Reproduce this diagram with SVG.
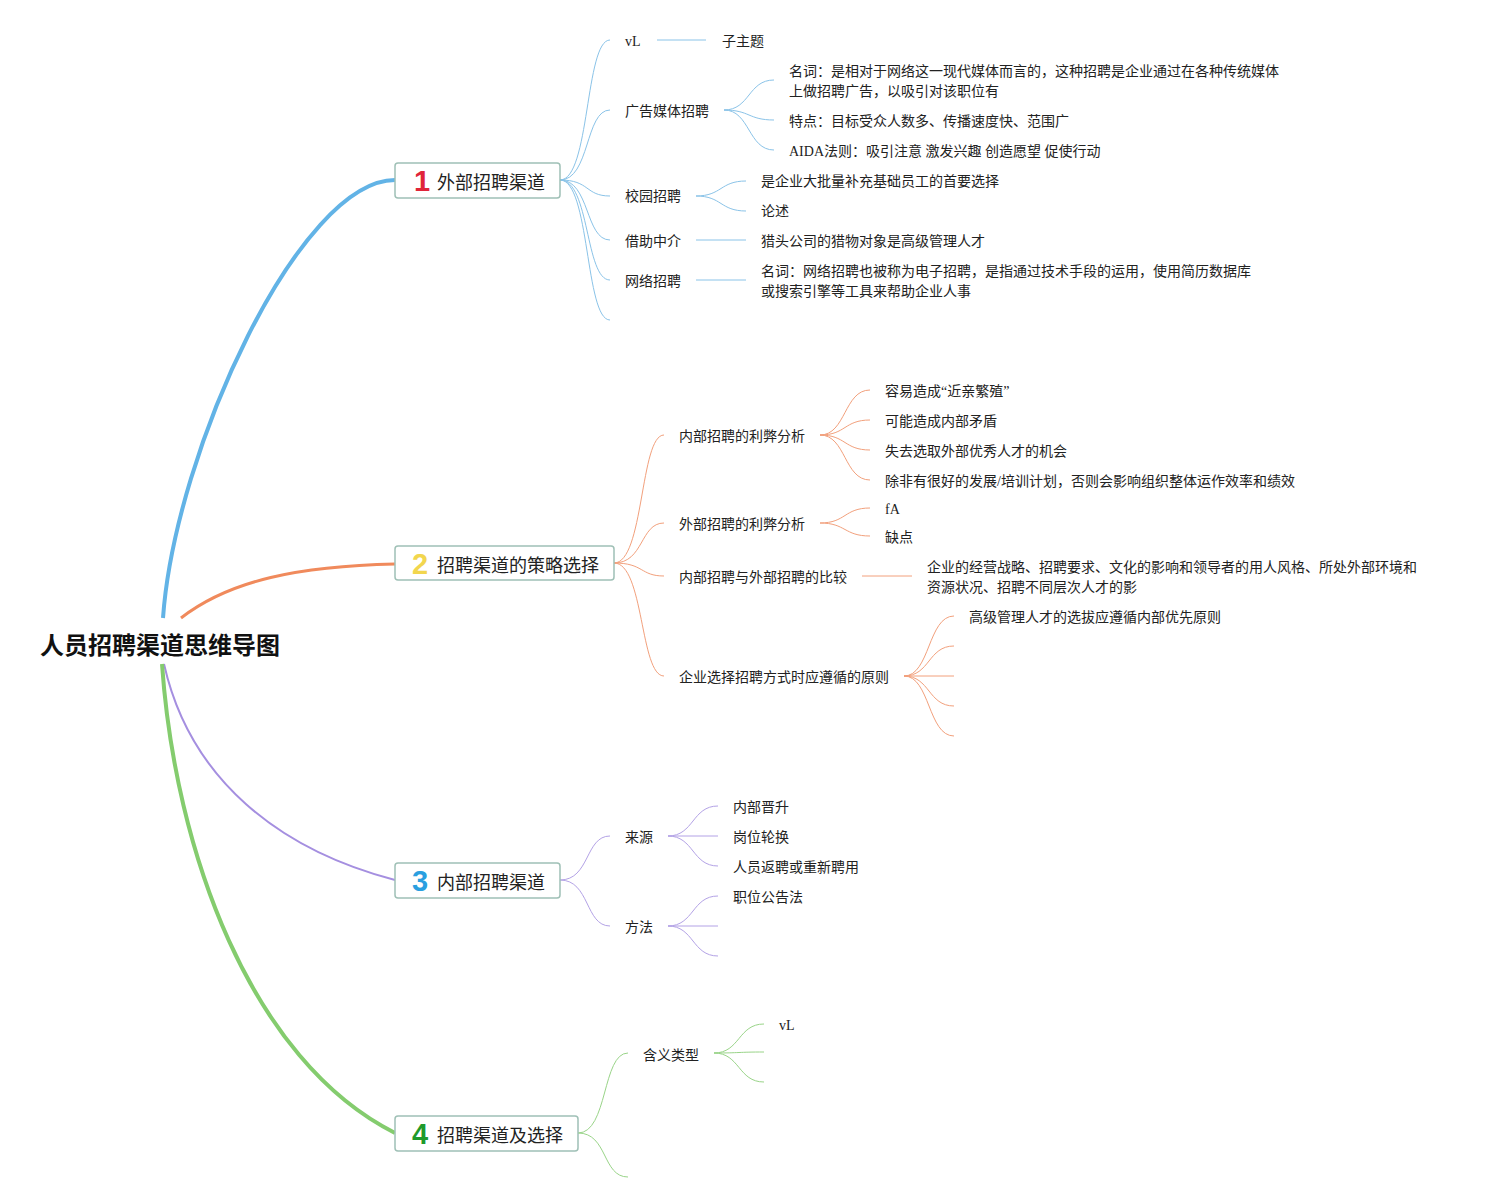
<svg xmlns="http://www.w3.org/2000/svg" width="1487" height="1202" viewBox="0 0 1487 1202">
<style>
.t{font-family:"Liberation Serif","Noto Sans CJK SC",serif;font-size:14px;fill:#222;dominant-baseline:central}
.m{font-family:"Noto Sans CJK SC",sans-serif;font-size:18px;fill:#222;dominant-baseline:central}
.n{font-family:"Liberation Sans","Noto Sans",sans-serif;font-size:29px;font-weight:bold;dominant-baseline:central}
.box{fill:#fff;stroke:#9fc0b6;stroke-width:1.5}
.b{fill:none;stroke:#8ac3e8;stroke-width:1}
.o{fill:none;stroke:#f2a07c;stroke-width:1}
.p{fill:none;stroke:#b3a2e6;stroke-width:1}
.g{fill:none;stroke:#99d488;stroke-width:1}
</style>
<rect width="1487" height="1202" fill="#fff"/>
<g id="connectors">
<path d="M163,618 C175,450 300,180 395,180" fill="none" stroke="#62b3e6" stroke-width="4"/>
<path d="M181,618 C230,580 300,566 395,564" fill="none" stroke="#f08a5c" stroke-width="3"/>
<path d="M164,664 C190,780 280,850 395,880" fill="none" stroke="#a58fe0" stroke-width="2"/>
<path d="M162,664 C175,850 250,1060 395,1133" fill="none" stroke="#84cc6e" stroke-width="4"/>
<path class="b" d="M560,180 C590,180 585,40 610,40"/>
<path class="b" d="M560,180 C590,180 585,110 610,110"/>
<path class="b" d="M560,180 C590,180 585,196 610,196"/>
<path class="b" d="M560,180 C590,180 585,240 610,240"/>
<path class="b" d="M560,180 C590,180 585,280 610,280"/>
<path class="b" d="M560,180 C590,180 585,320 610,320"/>
<path class="b" d="M657,40 H706"/>
<path class="b" d="M724,110 C750,110 748,80 774,80"/>
<path class="b" d="M724,110 C750,110 748,120 774,120"/>
<path class="b" d="M724,110 C750,110 748,150 774,150"/>
<path class="b" d="M696,196 C722,196 720,181 746,181"/>
<path class="b" d="M696,196 C722,196 720,211 746,211"/>
<path class="b" d="M696,240 H746"/>
<path class="b" d="M696,280 H746"/>
<path class="o" d="M614,563 C644,563 640,435 664,435"/>
<path class="o" d="M614,563 C644,563 640,523 664,523"/>
<path class="o" d="M614,563 C644,563 640,576 664,576"/>
<path class="o" d="M614,563 C644,563 640,676 664,676"/>
<path class="o" d="M820,435 C846,435 844,390 870,390"/>
<path class="o" d="M820,435 C846,435 844,420 870,420"/>
<path class="o" d="M820,435 C846,435 844,450 870,450"/>
<path class="o" d="M820,435 C846,435 844,480 870,480"/>
<path class="o" d="M820,523 C846,523 844,508 870,508"/>
<path class="o" d="M820,523 C846,523 844,536 870,536"/>
<path class="o" d="M862,576 H912"/>
<path class="o" d="M904,676 C930,676 928,616 954,616"/>
<path class="o" d="M904,676 C930,676 928,646 954,646"/>
<path class="o" d="M904,676 H954"/>
<path class="o" d="M904,676 C930,676 928,706 954,706"/>
<path class="o" d="M904,676 C930,676 928,736 954,736"/>
<path class="p" d="M560,880 C590,880 585,836 610,836"/>
<path class="p" d="M560,880 C590,880 585,926 610,926"/>
<path class="p" d="M668,836 C694,836 692,806 718,806"/>
<path class="p" d="M668,836 H718"/>
<path class="p" d="M668,836 C694,836 692,866 718,866"/>
<path class="p" d="M668,926 C694,926 692,896 718,896"/>
<path class="p" d="M668,926 H718"/>
<path class="p" d="M668,926 C694,926 692,956 718,956"/>
<path class="g" d="M578,1133 C608,1133 602,1053 628,1053"/>
<path class="g" d="M578,1133 C608,1133 602,1177 628,1177"/>
<path class="g" d="M714,1053 C740,1053 738,1024 764,1024"/>
<path class="g" d="M714,1053 C740,1053 738,1052 764,1052"/>
<path class="g" d="M714,1053 C740,1053 738,1082 764,1082"/>
</g>
<g id="root"><text x="160" y="643" text-anchor="middle" style="font-family:'Noto Sans CJK SC',sans-serif;font-size:24px;font-weight:bold;fill:#111" dominant-baseline="central">人员招聘渠道思维导图</text></g>
<g id="n1"><rect class="box" x="395" y="163" width="165" height="35" rx="3"/><text class="n" x="414" y="181" fill="#e0253a">1</text><text class="m" x="437" y="181">外部招聘渠道</text></g>
<g id="n2"><rect class="box" x="395" y="546" width="219" height="34" rx="3"/><text class="n" x="412" y="564" fill="#f2d64e">2</text><text class="m" x="437" y="564">招聘渠道的策略选择</text></g>
<g id="n3"><rect class="box" x="395" y="863" width="165" height="35" rx="3"/><text class="n" x="412" y="881" fill="#2a9fe0">3</text><text class="m" x="437" y="881">内部招聘渠道</text></g>
<g id="n4"><rect class="box" x="395" y="1116" width="183" height="35" rx="3"/><text class="n" x="412" y="1134" fill="#1f9a2c">4</text><text class="m" x="437" y="1134">招聘渠道及选择</text></g>
<g id="b1">
<text class="t" x="625" y="41">vL</text>
<text class="t" x="722" y="41">子主题</text>
<text class="t" x="625" y="111">广告媒体招聘</text>
<text class="t" x="789" y="71">名词：是相对于网络这一现代媒体而言的，这种招聘是企业通过在各种传统媒体</text>
<text class="t" x="789" y="91">上做招聘广告，以吸引对该职位有</text>
<text class="t" x="789" y="121">特点：目标受众人数多、传播速度快、范围广</text>
<text class="t" x="789" y="151">AIDA法则：吸引注意 激发兴趣 创造愿望 促使行动</text>
<text class="t" x="625" y="196">校园招聘</text>
<text class="t" x="761" y="181">是企业大批量补充基础员工的首要选择</text>
<text class="t" x="761" y="211">论述</text>
<text class="t" x="625" y="241">借助中介</text>
<text class="t" x="761" y="241">猎头公司的猎物对象是高级管理人才</text>
<text class="t" x="625" y="281">网络招聘</text>
<text class="t" x="761" y="271">名词：网络招聘也被称为电子招聘，是指通过技术手段的运用，使用简历数据库</text>
<text class="t" x="761" y="291">或搜索引擎等工具来帮助企业人事</text>
</g>
<g id="b2">
<text class="t" x="679" y="436">内部招聘的利弊分析</text>
<text class="t" x="885" y="391">容易造成“近亲繁殖”</text>
<text class="t" x="885" y="421">可能造成内部矛盾</text>
<text class="t" x="885" y="451">失去选取外部优秀人才的机会</text>
<text class="t" x="885" y="481">除非有很好的发展/培训计划，否则会影响组织整体运作效率和绩效</text>
<text class="t" x="679" y="524">外部招聘的利弊分析</text>
<text class="t" x="885" y="509">fA</text>
<text class="t" x="885" y="537">缺点</text>
<text class="t" x="679" y="577">内部招聘与外部招聘的比较</text>
<text class="t" x="927" y="567">企业的经营战略、招聘要求、文化的影响和领导者的用人风格、所处外部环境和</text>
<text class="t" x="927" y="587">资源状况、招聘不同层次人才的影</text>
<text class="t" x="679" y="677">企业选择招聘方式时应遵循的原则</text>
<text class="t" x="969" y="617">高级管理人才的选拔应遵循内部优先原则</text>
</g>
<g id="b3">
<text class="t" x="625" y="837">来源</text>
<text class="t" x="733" y="807">内部晋升</text>
<text class="t" x="733" y="837">岗位轮换</text>
<text class="t" x="733" y="867">人员返聘或重新聘用</text>
<text class="t" x="625" y="927">方法</text>
<text class="t" x="733" y="897">职位公告法</text>
</g>
<g id="b4">
<text class="t" x="643" y="1055">含义类型</text>
<text class="t" x="779" y="1025">vL</text>
</g>
</svg>
